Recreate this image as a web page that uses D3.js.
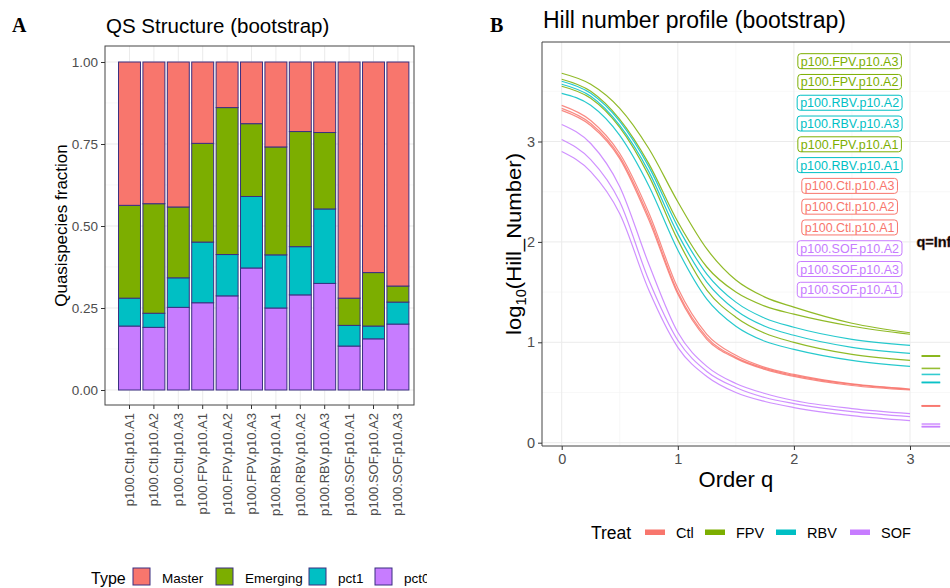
<!DOCTYPE html>
<meta charset="utf-8">
<style>
body{margin:0;background:#fff;}
svg text{font-family:"Liberation Sans",Arial,sans-serif;}
.tag{font-family:"Liberation Serif",serif !important;font-weight:bold;font-size:20px;}
</style>
<svg id="fig" width="950" height="588"></svg>
<script src="https://d3js.org/d3.v7.min.js"></script>
<script>
// ---------- panel A: QS structure ----------
const samples = ["p100.Ctl.p10.A1","p100.Ctl.p10.A2","p100.Ctl.p10.A3",
                 "p100.FPV.p10.A1","p100.FPV.p10.A2","p100.FPV.p10.A3",
                 "p100.RBV.p10.A1","p100.RBV.p10.A2","p100.RBV.p10.A3",
                 "p100.SOF.p10.A1","p100.SOF.p10.A2","p100.SOF.p10.A3"]
const pct0     = [.195,.191,.252,.266,.287,.372,.250,.290,.325,.134,.156,.201]
const pct1     = [.085,.043,.090,.185,.126,.218,.162,.147,.227,.063,.039,.067]
const emerging = [.283,.334,.216,.301,.448,.222,.329,.351,.233,.083,.163,.049]
const master   = [.437,.432,.442,.248,.139,.188,.259,.212,.215,.720,.642,.683]
const typeKeys   = ["pct0","pct1","Emerging","Master"]          // stacking order, bottom up
const typeLegend = ["Master","Emerging","pct1","pct0"]
const typeColor  = {Master:"#F8766D",Emerging:"#7CAE00",pct1:"#00BFC4",pct0:"#C77CFF"}
const yTicksA = [0,.25,.5,.75,1]

// ---------- panel B: Hill number profile ----------
const qGrid = [0,.25,.5,.75,1,1.25,1.5,1.75,2,2.5,3]
const hill_Ctl_A1 = [3.31,3.16,2.83,2.22,1.48,1.03,.84,.73,.66,.57,.525]
const hill_Ctl_A2 = [3.33,3.18,2.85,2.25,1.50,1.05,.85,.74,.67,.58,.53]
const hill_Ctl_A3 = [3.36,3.21,2.88,2.29,1.54,1.08,.87,.75,.68,.585,.535]
const hill_FPV_A1 = [3.55,3.43,3.14,2.66,2.02,1.52,1.25,1.09,1.00,.88,.82]
const hill_FPV_A2 = [3.62,3.50,3.22,2.78,2.20,1.75,1.50,1.36,1.28,1.16,1.08]
const hill_FPV_A3 = [3.68,3.57,3.33,2.93,2.40,1.93,1.62,1.45,1.35,1.19,1.095]
const hill_RBV_A1 = [3.48,3.36,3.06,2.56,1.92,1.43,1.16,1.01,.93,.82,.76]
const hill_RBV_A2 = [3.60,3.48,3.20,2.75,2.15,1.68,1.40,1.24,1.15,1.03,.97]
const hill_RBV_A3 = [3.57,3.45,3.16,2.70,2.08,1.60,1.32,1.16,1.07,.95,.89]
const hill_SOF_A1 = [2.90,2.70,2.28,1.52,.95,.66,.50,.41,.35,.27,.22]
const hill_SOF_A2 = [3.17,2.98,2.55,1.78,1.10,.76,.59,.49,.42,.34,.29]
const hill_SOF_A3 = [3.02,2.82,2.40,1.62,1.02,.71,.55,.45,.39,.31,.26]
const hillInf = {"p100.Ctl.p10.A1":.366,"p100.Ctl.p10.A2":.366,"p100.Ctl.p10.A3":.368,
                 "p100.FPV.p10.A1":.74,"p100.FPV.p10.A2":.862,"p100.FPV.p10.A3":.865,
                 "p100.RBV.p10.A1":.60,"p100.RBV.p10.A2":.68,"p100.RBV.p10.A3":.60,
                 "p100.SOF.p10.A1":.16,"p100.SOF.p10.A2":.186,"p100.SOF.p10.A3":.16}
const labelOrder = ["p100.FPV.p10.A3","p100.FPV.p10.A2","p100.RBV.p10.A2","p100.RBV.p10.A3",
                    "p100.FPV.p10.A1","p100.RBV.p10.A1","p100.Ctl.p10.A3","p100.Ctl.p10.A2",
                    "p100.Ctl.p10.A1","p100.SOF.p10.A2","p100.SOF.p10.A3","p100.SOF.p10.A1"]
const treats = ["Ctl","FPV","RBV","SOF"]
const treatColor = {Ctl:"#F8766D",FPV:"#7CAE00",RBV:"#00BFC4",SOF:"#C77CFF"}
const xTicksB = [0,1,2,3], yTicksB = [0,1,2,3]

const hillSeries = [
  ["p100.Ctl.p10.A1",hill_Ctl_A1],["p100.Ctl.p10.A2",hill_Ctl_A2],["p100.Ctl.p10.A3",hill_Ctl_A3],
  ["p100.FPV.p10.A1",hill_FPV_A1],["p100.FPV.p10.A2",hill_FPV_A2],["p100.FPV.p10.A3",hill_FPV_A3],
  ["p100.RBV.p10.A1",hill_RBV_A1],["p100.RBV.p10.A2",hill_RBV_A2],["p100.RBV.p10.A3",hill_RBV_A3],
  ["p100.SOF.p10.A1",hill_SOF_A1],["p100.SOF.p10.A2",hill_SOF_A2],["p100.SOF.p10.A3",hill_SOF_A3]
].map(([id,v]) => ({id, treat:id.split(".")[1], pts:qGrid.map((q,i)=>({q,v:v[i]}))}))

const svg = d3.select("#fig")
const GRID = "#ebebeb", GRID_MINOR = "#f4f4f4", BORDER = "#444"

// ===================== PANEL A =====================
svg.append("clipPath").attr("id","clipA").append("rect").attr("x",0).attr("y",0).attr("width",427).attr("height",588)
const gA = svg.append("g").attr("clip-path","url(#clipA)")
const pA = {l:105, r:414, t:46, b:405}
const yA = d3.scaleLinear().domain([0,1]).range([390,62])
const xA = d3.scaleBand().domain(samples).range([117.3,410.1]).paddingInner(0.1).paddingOuter(0.05)

gA.append("text").attr("class","tag").attr("x",12).attr("y",32).text("A")
gA.append("text").attr("x",106).attr("y",33).attr("font-size",20.5).text("QS Structure (bootstrap)")

gA.append("rect").attr("x",pA.l).attr("y",pA.t).attr("width",pA.r-pA.l).attr("height",pA.b-pA.t).attr("fill","#fff")
gA.selectAll("line.hminor").data([.125,.375,.625,.875]).join("line")
  .attr("x1",pA.l).attr("x2",pA.r).attr("y1",d=>yA(d)).attr("y2",d=>yA(d))
  .attr("stroke",GRID_MINOR).attr("stroke-width",.6)
gA.selectAll("line.hmajor").data(yTicksA).join("line")
  .attr("x1",pA.l).attr("x2",pA.r).attr("y1",d=>yA(d)).attr("y2",d=>yA(d))
  .attr("stroke",GRID).attr("stroke-width",1)
gA.selectAll("line.vmajor").data(samples).join("line")
  .attr("x1",d=>xA(d)+xA.bandwidth()/2).attr("x2",d=>xA(d)+xA.bandwidth()/2)
  .attr("y1",pA.t).attr("y2",pA.b).attr("stroke",GRID)

const rows = samples.map((s,i)=>({s, pct0:pct0[i], pct1:pct1[i], Emerging:emerging[i], Master:master[i]}))
const stacked = d3.stack().keys(typeKeys)(rows)
gA.selectAll("g.layer").data(stacked).join("g")
  .attr("fill",d=>typeColor[d.key])
  .selectAll("rect").data(d=>d).join("rect")
  .attr("x",d=>xA(d.data.s)).attr("width",xA.bandwidth())
  .attr("y",d=>yA(d[1])).attr("height",d=>yA(d[0])-yA(d[1]))
  .attr("stroke","#3a2f80").attr("stroke-width",1)

gA.append("rect").attr("x",pA.l).attr("y",pA.t).attr("width",pA.r-pA.l).attr("height",pA.b-pA.t)
  .attr("fill","none").attr("stroke",BORDER)

const axA = gA.append("g").attr("transform",`translate(${pA.l},0)`)
  .call(d3.axisLeft(yA).tickValues(yTicksA).tickFormat(d3.format(".2f")).tickSize(4).tickPadding(3))
const axAx = gA.append("g").attr("transform",`translate(0,${pA.b})`)
  .call(d3.axisBottom(xA).tickSize(4))
axAx.selectAll("text").attr("transform","rotate(-90)").attr("x",-8).attr("y",0).attr("dy","0.35em")
  .style("text-anchor","end")
for (const ax of [axA, axAx]) {
  ax.select(".domain").remove()
  ax.selectAll("line").attr("stroke","#333")
  ax.selectAll("text").attr("fill","#4d4d4d").attr("font-size",13).attr("font-family","Liberation Sans, Arial, sans-serif")
}
axA.selectAll("text").attr("font-size",13.5)
gA.append("text").attr("transform",`translate(67,${(pA.t+pA.b)/2}) rotate(-90)`)
  .attr("text-anchor","middle").attr("font-size",17).text("Quasispecies fraction")

// legend A
const legA = gA.append("g")
legA.append("text").attr("x",91).attr("y",584).attr("font-size",16).text("Type")
const legAx = [133,216,309,375]
legA.selectAll("rect").data(typeLegend).join("rect")
  .attr("x",(d,i)=>legAx[i]).attr("y",568).attr("width",17).attr("height",17)
  .attr("fill",d=>typeColor[d]).attr("stroke","#3a2f80")
legA.selectAll("text.lab").data(typeLegend).join("text").attr("class","lab")
  .attr("x",(d,i)=>legAx[i]+29).attr("y",583).attr("font-size",13.5).text(d=>d)

// ===================== PANEL B =====================
const pB = {l:542, r:965, t:42, b:446}
const xB = d3.scaleLinear().domain([0,3]).range([561.7,910])
const yB = d3.scaleLinear().domain([0,3]).range([442.7,141.5])
const gB = svg.append("g")

gB.append("text").attr("class","tag").attr("x",490).attr("y",32).text("B")
gB.append("text").attr("x",543).attr("y",28).attr("font-size",23).text("Hill number profile (bootstrap)")

gB.selectAll("line.vminor").data([.5,1.5,2.5,3.5]).join("line")
  .attr("x1",d=>xB(d)).attr("x2",d=>xB(d)).attr("y1",pB.t).attr("y2",pB.b)
  .attr("stroke",GRID_MINOR).attr("stroke-width",.6)
gB.selectAll("line.hminor").data([.5,1.5,2.5,3.5]).join("line")
  .attr("x1",pB.l).attr("x2",pB.r).attr("y1",d=>yB(d)).attr("y2",d=>yB(d))
  .attr("stroke",GRID_MINOR).attr("stroke-width",.6)
gB.selectAll("line.vmajor").data(xTicksB).join("line")
  .attr("x1",d=>xB(d)).attr("x2",d=>xB(d)).attr("y1",pB.t).attr("y2",pB.b).attr("stroke",GRID)
gB.selectAll("line.hmajor").data(yTicksB).join("line")
  .attr("x1",pB.l).attr("x2",pB.r).attr("y1",d=>yB(d)).attr("y2",d=>yB(d)).attr("stroke",GRID)

const line = d3.line().x(d=>xB(d.q)).y(d=>yB(d.v)).curve(d3.curveMonotoneX)
gB.selectAll("path.hill").data(hillSeries).join("path").attr("class","hill")
  .attr("d",d=>line(d.pts)).attr("fill","none")
  .attr("stroke",d=>treatColor[d.treat]).attr("stroke-width",1.2).attr("stroke-opacity",.85)

// q = Inf values as short segments
gB.selectAll("line.inf").data(hillSeries).join("line").attr("class","inf")
  .attr("x1",xB(3.1)).attr("x2",xB(3.26)).attr("y1",d=>yB(hillInf[d.id])).attr("y2",d=>yB(hillInf[d.id]))
  .attr("stroke",d=>treatColor[d.treat]).attr("stroke-width",1.6).attr("stroke-opacity",.8)
gB.append("text").attr("x",xB(3.055)).attr("y",yB(2)+5).attr("font-size",14.5).attr("font-weight","bold")
  .attr("stroke","#6b3a2a").attr("stroke-width",.4).text("q=Inf")

// sample labels
const labG = gB.selectAll("g.lab").data(labelOrder).join("g").attr("class","lab")
  .attr("transform",(d,i)=>`translate(${xB(2.48)},${yB(3.8-i*0.207)})`)
labG.append("rect").attr("rx",3).attr("fill","#fff").attr("stroke-width",1)
  .attr("stroke",d=>treatColor[d.split(".")[1]])
labG.append("text").attr("text-anchor","middle").attr("dy","0.36em").attr("font-size",12.5)
  .attr("fill",d=>treatColor[d.split(".")[1]]).text(d=>d)
labG.each(function(){
  const w = d3.select(this).select("text").node().getComputedTextLength()
  d3.select(this).select("rect").attr("x",-w/2-3).attr("y",-7.5).attr("width",w+6).attr("height",15)
})

gB.append("path").attr("d",`M${pB.r},${pB.t}H${pB.l}V${pB.b}H${pB.r}`).attr("fill","none").attr("stroke",BORDER)

const axBy = gB.append("g").attr("transform",`translate(${pB.l},0)`)
  .call(d3.axisLeft(yB).tickValues(yTicksB).tickFormat(d3.format("d")).tickSize(4).tickPadding(3))
const axBx = gB.append("g").attr("transform",`translate(0,${pB.b})`)
  .call(d3.axisBottom(xB).tickValues(xTicksB).tickFormat(d3.format("d")).tickSize(4).tickPadding(4))
for (const ax of [axBy, axBx]) {
  ax.select(".domain").remove()
  ax.selectAll("line").attr("stroke","#333")
  ax.selectAll("text").attr("fill","#4d4d4d").attr("font-size",14.5).attr("font-family","Liberation Sans, Arial, sans-serif")
}
gB.append("text").attr("x",(xB(0)+xB(3))/2).attr("y",487).attr("text-anchor","middle").attr("font-size",22).text("Order q")
const yl = gB.append("text").attr("transform",`translate(521,${(pB.t+pB.b)/2}) rotate(-90)`)
  .attr("text-anchor","middle").attr("font-size",21).attr("textLength",182).attr("lengthAdjust","spacingAndGlyphs")
yl.append("tspan").text("log")
yl.append("tspan").attr("font-size",14).attr("dy",5).text("10")
yl.append("tspan").attr("dy",-5).text("(Hill_Number)")

// legend B
const legB = gB.append("g")
legB.append("text").attr("x",591).attr("y",539).attr("font-size",17.5).text("Treat")
const legBx = [645,705,776,850]
legB.selectAll("rect").data(treats).join("rect")
  .attr("x",(d,i)=>legBx[i]).attr("y",529.5).attr("width",20).attr("height",5.5).attr("fill",d=>treatColor[d])
legB.selectAll("text.lab").data(treats).join("text").attr("class","lab")
  .attr("x",(d,i)=>legBx[i]+31).attr("y",538).attr("font-size",14.5).text(d=>d)
</script>
